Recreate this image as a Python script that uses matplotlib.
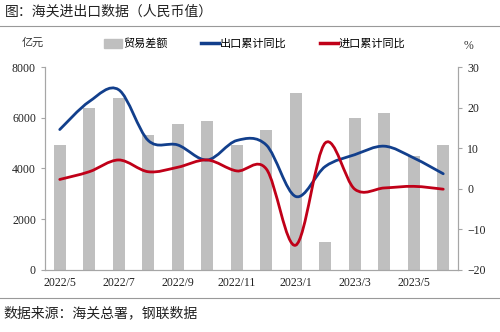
import numpy as np
import matplotlib
matplotlib.use('Agg')
import matplotlib.pyplot as plt
from matplotlib.path import Path
from matplotlib.patches import PathPatch
from matplotlib.lines import Line2D
from matplotlib.patches import Patch

plt.rcParams['font.family'] = ['Liberation Serif', 'Noto Sans CJK SC']

# 月份、贸易差额（亿元）、出口/进口累计同比（%）
months = ['2022/5', '2022/6', '2022/7', '2022/8', '2022/9', '2022/10', '2022/11',
          '2022/12', '2023/1', '2023/2', '2023/3', '2023/4', '2023/5', '2023/6']
trade_balance = [4940, 6380, 6790, 5340, 5735, 5860, 4930,
                 5500, 6990, 1120, 6000, 6190, 4480, 4920]
export_yoy = [14.6, 21.5, 24.4, 11.9, 10.8, 7.1, 11.9,
              10.8, -1.9, 5.5, 8.4, 10.5, 7.6, 3.7]
import_yoy = [2.3, 4.2, 7.1, 4.2, 5.3, 7.1, 4.4,
              4.9, -13.9, 11.3, -0.1, 0.2, 0.6, -0.1]

tick_labels = ['2022/5', '2022/7', '2022/9', '2022/11', '2023/1', '2023/3', '2023/5']

c_bar = '#bfbfbf'
c_exp = '#123f8c'
c_imp = '#c00018'
c_axis = '#a6a6a6'
cjk = ['Noto Sans CJK SC', 'DejaVu Sans']


def smooth_path(x, y):
    # Bezier segments through every point (Excel-style smoothed line)
    pts = np.column_stack([x, y]).astype(float)
    n = len(pts)
    verts = [pts[0]]
    codes = [Path.MOVETO]
    for i in range(n - 1):
        p0 = pts[i - 1] if i > 0 else pts[i]
        p1 = pts[i]
        p2 = pts[i + 1]
        p3 = pts[i + 2] if i + 2 < n else pts[i + 1]
        verts += [p1 + (p2 - p0) / 6, p2 - (p3 - p1) / 6, p2]
        codes += [Path.CURVE4] * 3
    return Path(verts, codes)


fig = plt.figure(figsize=(5, 3.32), dpi=100)
ax = fig.add_axes([0.09, 0.187, 0.826, 0.611])
x = np.arange(len(months))

ax.bar(x, trade_balance, width=0.4, color=c_bar, zorder=1)
ax.set_ylim(0, 8000)
ax.set_yticks([0, 2000, 4000, 6000, 8000])
ax.set_xlim(-0.5, len(months) - 0.5)
ax.set_xticks([months.index(m) for m in tick_labels])
ax.set_xticklabels(tick_labels)

ax2 = ax.twinx()
ax2.set_ylim(-20, 30)
ax2.set_yticks([-20, -10, 0, 10, 20, 30])
ax2.add_patch(PathPatch(smooth_path(x, export_yoy), fill=False, edgecolor=c_exp,
                        lw=2.0, capstyle='round', zorder=3))
ax2.add_patch(PathPatch(smooth_path(x, import_yoy), fill=False, edgecolor=c_imp,
                        lw=2.0, capstyle='round', zorder=3))

for a in (ax, ax2):
    a.spines['top'].set_visible(False)
    for s in ('left', 'right', 'bottom'):
        a.spines[s].set_color(c_axis)
        a.spines[s].set_linewidth(0.8)
    a.tick_params(labelsize=8.5, colors='#222222', length=3, width=0.8)
    a.tick_params(axis='y', color=c_axis)
ax.tick_params(axis='x', length=0, pad=5)

fig.text(0.044, 0.87, '亿元', family=cjk, fontsize=8, color='#333333', va='center')
fig.text(0.928, 0.862, '%', fontsize=8.5, color='#333333', va='center')

handles = [Patch(color=c_bar),
           Line2D([0], [0], color=c_exp, lw=2.5),
           Line2D([0], [0], color=c_imp, lw=2.5)]
fig.legend(handles, ['贸易差额', '出口累计同比', '进口累计同比'],
           loc='center', bbox_to_anchor=(0.51, 0.868), ncol=3, frameon=False,
           prop={'family': cjk, 'size': 8}, handlelength=1.6, handleheight=0.8,
           handletextpad=0.1, columnspacing=3.0)

# 标题、分隔线、数据来源
fig.text(0.01, 0.965, '图：海关进出口数据（人民币值）', family=cjk, fontsize=10,
         color='#222222', va='center')
fig.add_artist(Line2D([0, 1], [0.922, 0.922], color='#999999', lw=0.8))
fig.add_artist(Line2D([0, 1], [0.102, 0.102], color='#999999', lw=0.8))
fig.text(0.006, 0.055, '数据来源：海关总署，钢联数据', family=cjk, fontsize=10,
         color='#222222', va='center')

fig.savefig('out.png', dpi=100)
